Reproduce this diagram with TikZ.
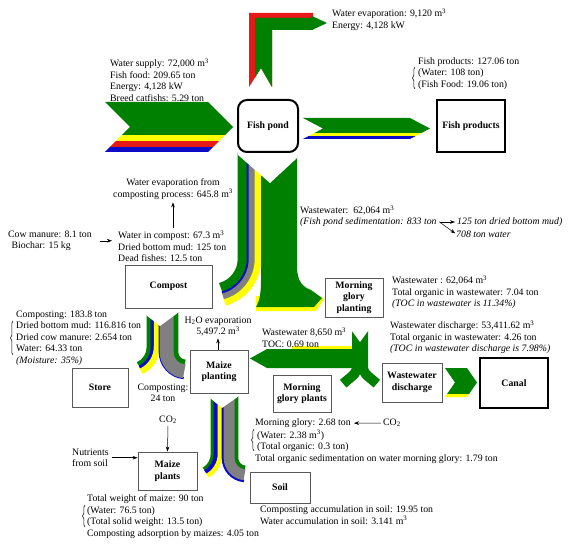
\documentclass[tikz,border=0pt]{standalone}
\usepackage{fontspec}
\setmainfont{Liberation Serif}
\usetikzlibrary{arrows.meta,decorations.pathreplacing}
\definecolor{fgreen}{RGB}{0,128,0}
\definecolor{fyellow}{RGB}{255,255,0}
\definecolor{fred}{RGB}{230,25,25}
\definecolor{fblue}{RGB}{10,10,200}
\definecolor{fgray}{RGB}{128,128,128}
\begin{document}
\begin{tikzpicture}[x=1pt,y=1pt,yscale=-1,
 txt/.style={inner sep=0pt, align=left, font=\fontsize{9.8}{11.5}\selectfont, anchor=north west},
 ctxt/.style={inner sep=0pt, align=center, font=\fontsize{9.8}{11.5}\selectfont, anchor=north},
 box/.style={draw=black!65, line width=0.9pt, fill=white, align=center, inner sep=1pt, font=\bfseries\fontsize{9.8}{11.5}\selectfont},
 bigbox/.style={box, draw=black, line width=2pt},
 arr/.style={-{Stealth[length=5pt,width=3.6pt]}, line width=0.5pt},
 brc/.style={decorate, decoration={brace, amplitude=2.5pt}, line width=0.5pt}]
\useasboundingbox (0,0) rectangle (570,545);
% ---- top evaporation L-arrow
\fill[fred] (249,87) -- (249,13) -- (313,13) -- (313,30) -- (272,30) -- (272,87) -- (261,68) -- cycle;
\fill[fgreen] (255,77.5) -- (255,18) -- (312,18) -- (312,16) -- (327,23) -- (312,30) -- (272,30) -- (272,87) -- (261,68) -- cycle;
% ---- input chevron
\begin{scope}
\clip (105,102) -- (208,102) -- (233,127) -- (208,152) -- (105,152) -- (130,127) -- cycle;
\fill[fgreen] (100,100) rectangle (240,135.5);
\fill[fyellow] (100,135.5) rectangle (240,141);
\fill[fred] (100,141) rectangle (240,147);
\fill[fblue] (100,147) rectangle (240,154);
\end{scope}
% ---- output chevron
\begin{scope}
\clip (303,118) -- (410,118) -- (430,128.5) -- (410,139) -- (303,139) -- (323,128.5) -- cycle;
\fill[fgreen] (300,115) rectangle (432,133.5);
\fill[fyellow] (300,133.5) rectangle (432,136.2);
\fill[fblue] (300,136.2) rectangle (432,141);
\end{scope}
% ---- big downward flow
\draw[fgreen, line width=9.6pt] (242.5,150) -- (242.5,259) arc[start angle=0,end angle=75,radius=29.5pt];
\draw[fblue, line width=2.6pt] (248,150) -- (248,259) arc[start angle=0,end angle=75,radius=35pt];
\draw[fgray, line width=6.6pt] (252,150) -- (252,259) arc[start angle=0,end angle=75,radius=39pt];
\draw[fyellow, line width=6.6pt] (258,150) -- (258,259) arc[start angle=0,end angle=75,radius=45pt];
\fill[fyellow] (256,296) -- (320,296) -- (324,299) -- (316,311) -- (256,311) -- cycle;
\fill[fgreen] (261,150) -- (297,150) -- (297,266) .. controls (297,282) and (303,287) .. (311,290) -- (322,298) -- (314,307) -- (256,307) .. controls (260,300) and (261,292) .. (261,280) -- cycle;
\fill[white] (236,146) -- (238,155) -- (270,183) -- (297,158) -- (299,146) -- cycle;
% ---- split A (compost -> store / maize planting)
\draw[fgreen, line width=4.6pt] (149,311) -- (149,347) arc[start angle=0,end angle=65,radius=19pt];
\draw[fblue, line width=3.6pt] (152.5,311) -- (152.5,347) arc[start angle=0,end angle=65,radius=22.5pt];
\draw[fyellow, line width=6pt] (156.75,311) -- (156.75,347) arc[start angle=0,end angle=65,radius=26.75pt];
\draw[fblue, line width=2.1pt] (159.75,311) -- (159.75,352) arc[start angle=180,end angle=95,radius=26.25pt];
\draw[fgray, line width=14.6pt] (167,311) -- (167,352) arc[start angle=180,end angle=95,radius=19pt];
\draw[fgreen, line width=4.6pt] (176,311) -- (176,352) arc[start angle=180,end angle=95,radius=10pt];
\fill[white] (144,309) -- (146,315) -- (160,326) -- (179,312) -- (181,309) -- cycle;
% ---- split C (maize planting -> maize plants / soil)
\draw[fgreen, line width=3.6pt] (212.5,394) -- (212.5,454) arc[start angle=0,end angle=60,radius=17.5pt];
\draw[fblue, line width=4.6pt] (216,394) -- (216,454) arc[start angle=0,end angle=60,radius=21pt];
\draw[fyellow, line width=4.6pt] (220,394) -- (220,454) arc[start angle=0,end angle=60,radius=25pt];
\draw[fblue, line width=2.6pt] (223,394) -- (223,458) arc[start angle=180,end angle=95,radius=23pt];
\draw[fgray, line width=11.6pt] (229.5,394) -- (229.5,458) arc[start angle=180,end angle=95,radius=16.5pt];
\draw[fgreen, line width=3.6pt] (236.5,394) -- (236.5,458) arc[start angle=180,end angle=95,radius=9.5pt];
\fill[white] (208,392) -- (210,398) -- (222,408) -- (239,396) -- (241,392) -- cycle;
% ---- split M (morning glory) and arrow to maize planting
\fill[fyellow] (292,346) rectangle (353,350);
\fill[fgreen] (353,349) -- (267,349) -- (250,358.5) -- (267,368) -- (353,368) -- cycle;
\draw[fgreen, line width=10pt] (357,329) -- (357,366) arc[start angle=0,end angle=50,radius=13pt] -- ++(-9.2,7.7);
\draw[fgreen, line width=10pt] (363,329) -- (363,366) arc[start angle=180,end angle=130,radius=13pt] -- ++(9.2,7.7);
\fill[white] (349,326) -- (352,331) -- (360,342) -- (368,331) -- (371,326) -- cycle;
% ---- discharge -> canal chevron
\begin{scope}
\clip (445,368) -- (467,368) -- (477,382.5) -- (467,397) -- (445,397) -- (455,382.5) -- cycle;
\fill[fgreen] (440,365) rectangle (480,393.5);
\fill[fyellow] (440,393.5) rectangle (480,399);
\end{scope}
% ---- boxes
\node[bigbox, rounded corners=9pt, minimum width=60pt, minimum height=52pt] (pond) at (268,126) {Fish pond};
\node[bigbox, line width=1.8pt, minimum width=68pt, minimum height=52pt] (prod) at (471,126) {Fish products};
\node[box, minimum width=87pt, minimum height=43pt] (compost) at (168.5,286.5) {Compost};
\node[box, minimum width=58pt, minimum height=39pt] (mgplanting) at (354,297.5) {Morning\\glory\\planting};
\node[box, minimum width=56pt, minimum height=39pt] (store) at (100,387.5) {Store};
\node[box, minimum width=58pt, minimum height=43pt] (maizeplanting) at (219,371.5) {Maize\\planting};
\node[box, minimum width=58pt, minimum height=37pt] (mgplants) at (302,393.5) {Morning\\glory plants};
\node[box, minimum width=60pt, minimum height=39pt] (wwdis) at (412,382.5) {Wastewater\\discharge};
\node[bigbox, minimum width=68pt, minimum height=50pt] (canal) at (514,383) {Canal};
\node[box, minimum width=60pt, minimum height=31pt] (soil) at (280,487.5) {Soil};
\node[box, minimum width=59pt, minimum height=38pt] (maizeplants) at (167.5,471) {Maize\\plants};
% ---- texts
\node[txt] (tEvap) at (332,8.5) {Water evaporation: 9,120 m\textsuperscript{3}\\Energy: 4,128 kW};
\node[txt] (tIn) at (110,58.5) {Water supply: 72,000 m\textsuperscript{3}\\Fish food: 209.65 ton\\Energy: 4,128 kW\\Breed catfishs: 5.29 ton};
\node[txt] (tProd) at (418,57.5) {Fish products: 127.06 ton\\(Water: 108 ton)\\(Fish Food: 19.06 ton)};
\draw[brc] (415,89) -- (415,67);
\node[ctxt] (tEvapC) at (173,178.5) {Water evaporation from\\composting process: 645.8 m\textsuperscript{3}};
\node[txt] (tCow) at (8,230.5) {Cow manure: 8.1 ton\\\hspace*{3.5pt}Biochar: 15 kg};
\node[txt] (tInComp) at (118,230.5) {Water in compost: 67.3 m\textsuperscript{3}\\Dried bottom mud: 125 ton\\Dead fishes: 12.5 ton};
\node[txt] (tWW) at (300,205.5) {Wastewater:\ \ 62,064 m\textsuperscript{3}};
\node[txt, anchor=west] (tSed) at (300,222) {\itshape (Fish pond sedimentation: 833 ton};
\node[txt, anchor=west] (tMud) at (457,222) {\itshape 125 ton dried bottom mud)};
\node[txt, anchor=west] (tWater) at (456,234) {\itshape 708 ton water};
\draw[arr, shorten <=3pt, shorten >=2pt] (tSed.east) -- (tMud.west);
\draw[arr, shorten <=3pt, shorten >=1pt] ([yshift=-2pt]tSed.east) -- (tWater.west);
\node[txt] (tMG1) at (392,275.5) {Wastewater : 62,064 m\textsuperscript{3}\\Total organic in wastewater: 7.04 ton\\\textit{(TOC in wastewater is 11.34\%)}};
\node[txt] (tMG2) at (390,320.5) {Wastewater discharge: 53,411.62 m\textsuperscript{3}\\Total organic in wastewater: 4.26 ton\\\textit{(TOC in wastewater discharge is 7.98\%)}};
\node[txt] (tStore) at (16,310.5) {Composting: 183.8 ton\\Dried bottom mud: 116.816 ton\\Dried cow manure: 2.654 ton\\Water: 64.33 ton\\\textit{(Moisture: 35\%)}};
\draw[brc] (13,355) -- (13,321);
\node[ctxt] (tComp24) at (163,383.5) {Composting:\\24 ton};
\node[ctxt] (tH2O) at (218,316.5) {H\textsubscript{2}O evaporation\\5,497.2 m\textsuperscript{3}};
\node[txt] (tWW2) at (262,327.5) {Wastewater 8,650 m\textsuperscript{3}\\TOC: 0.69 ton};
\node[txt] (tMGa) at (255,418.5) {Morning glory: 2.68 ton};
\node[txt] (tMGb) at (255,430) {\hspace*{2pt}(Water: 2.38 m\textsuperscript{3})\\\hspace*{2pt}(Total organic: 0.3 ton)\\Total organic sedimentation on water morning glory: 1.79 ton};
\draw[brc] (254,451) -- (254,429);
\node[txt, anchor=west] (tCO2a) at (383,423) {CO\textsubscript{2}};
\node[txt] (tSoil) at (260,505.5) {Composting accumulation in soil: 19.95 ton\\Water accumulation in soil: 3.141 m\textsuperscript{3}};
\node[ctxt, anchor=center] (tCO2b) at (168,420) {CO\textsubscript{2}};
\node[txt] (tNutr) at (72,448.5) {Nutrients\\from soil};
\node[txt] (tMaize) at (87,494.5) {Total weight of maize: 90 ton\\(Water: 76.5 ton)\\(Total solid weight: 13.5 ton)\\Composting adsorption by maizes: 4.05 ton};
\draw[brc] (85,527) -- (85,505);
% ---- small arrows
\draw[arr, shorten <=8pt, shorten >=6pt] (tCow.east) -- (tCow.east -| tInComp.west);
\draw[arr, shorten <=2pt, shorten >=3pt] (tInComp.north -| tEvapC.south) -- (tEvapC.south);
\draw[arr, shorten >=2pt] (maizeplanting.north -| tH2O.south) -- (tH2O.south);
\draw[arr, shorten <=2pt, shorten >=3pt] (tCO2a.west) -- (tMGa.east);
\draw[arr, shorten <=2pt] (tCO2b.south) -- (maizeplants.north);
\draw[arr, shorten <=3pt] (tNutr.east) -- (tNutr.east -| maizeplants.west);
\end{tikzpicture}
\end{document}
